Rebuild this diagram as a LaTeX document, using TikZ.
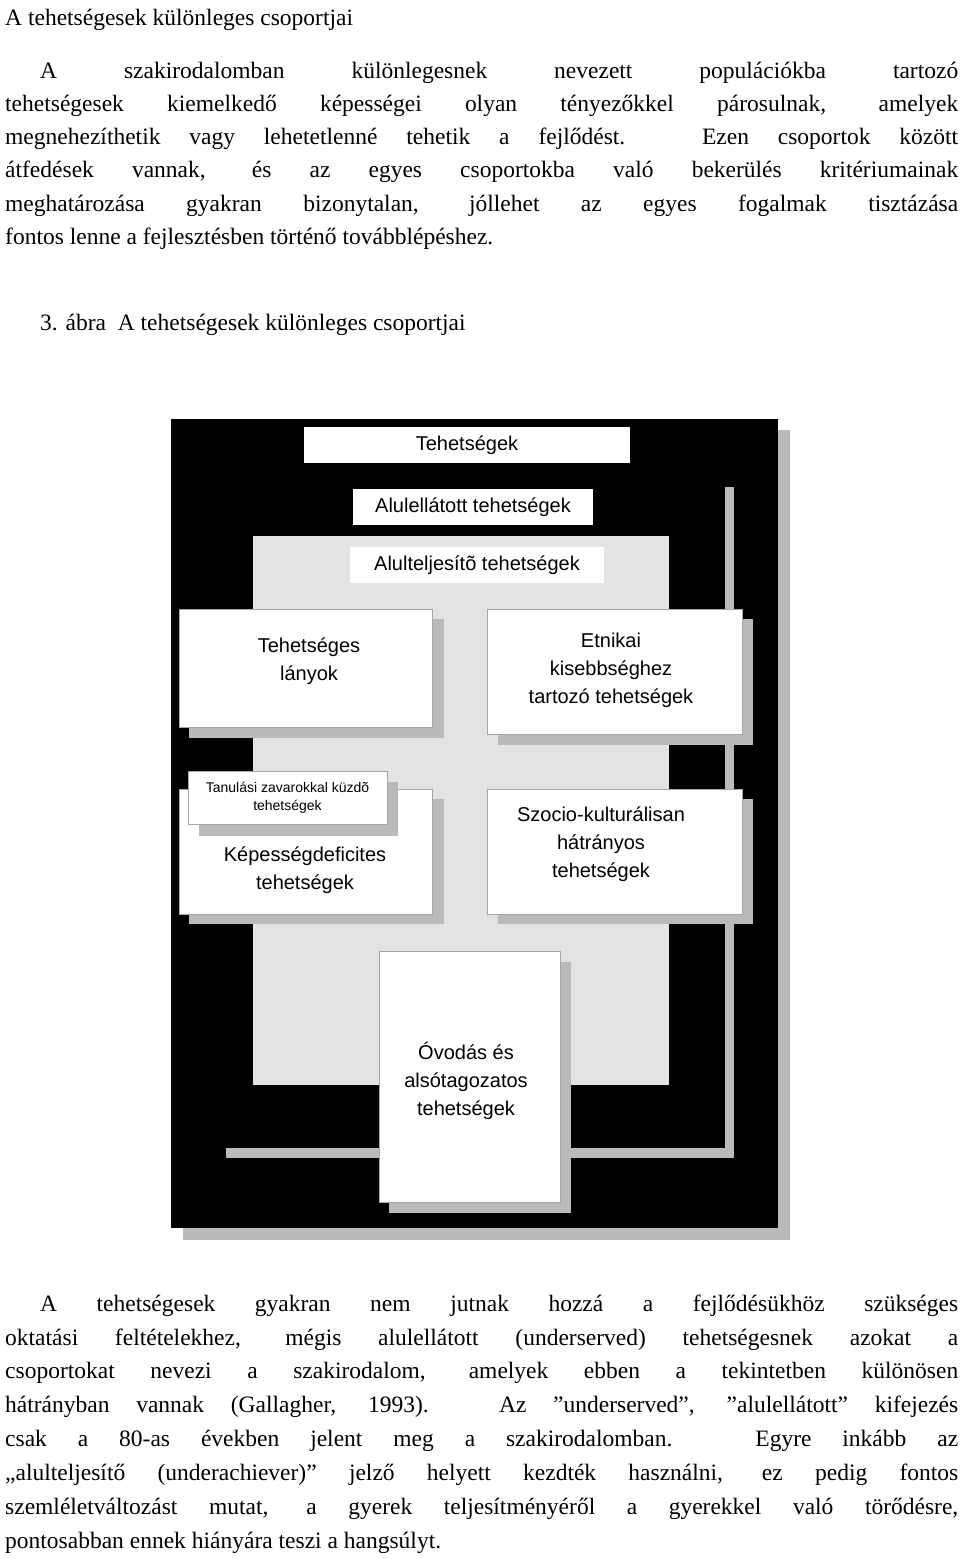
\documentclass[tikz,border=0pt]{standalone}
\usepackage{fontspec}
\setmainfont{Liberation Serif}
\newfontfamily\arial{Liberation Sans}
\begin{document}
\begin{tikzpicture}[x=1pt,y=-1pt,
  txt/.style={anchor=base west,inner sep=0pt,font=\fontsize{23.5}{28}\selectfont},
  shd/.style={fill=black!27},
  box/.style={fill=white,draw=black!35,line width=0.6pt,inner sep=2pt,align=center,font=\arial\fontsize{20}{28}\selectfont},
  lab/.style={inner sep=0pt,align=center,font=\arial\fontsize{20}{28}\selectfont}]
\useasboundingbox (0,0) rectangle (960,1559);
\fill[white] (0,0) rectangle (960,1559);
% page text
\node[txt] (h) at (5,25) {A tehetségesek különleges csoportjai};
\node[txt] (p1) at (40,78) {\makebox[918pt][s]{A szakirodalomban különlegesnek nevezett populációkba tartozó}};
\node[txt] (p2) at (5,111) {\makebox[953pt][s]{tehetségesek kiemelkedő képességei olyan tényezőkkel párosulnak, amelyek}};
\node[txt] (p3) at (5,144) {\makebox[953pt][s]{megnehezíthetik vagy lehetetlenné tehetik a fejlődést. Ezen csoportok között}};
\node[txt] (p4) at (5,177) {\makebox[953pt][s]{átfedések vannak, és az egyes csoportokba való bekerülés kritériumainak}};
\node[txt] (p5) at (5,211) {\makebox[953pt][s]{meghatározása gyakran bizonytalan, jóllehet az egyes fogalmak tisztázása}};
\node[txt] (p6) at (5,244) {fontos lenne a fejlesztésben történő továbblépéshez.};
\node[txt] (cap) at (40,330) {3. ábra\ \ A tehetségesek különleges csoportjai};
\node[txt] (q1) at (40,1311) {\makebox[918pt][s]{A tehetségesek gyakran nem jutnak hozzá a fejlődésükhöz szükséges}};
\node[txt] (q2) at (5,1345) {\makebox[953pt][s]{oktatási feltételekhez, mégis alulellátott (underserved) tehetségesnek azokat a}};
\node[txt] (q3) at (5,1378) {\makebox[953pt][s]{csoportokat nevezi a szakirodalom, amelyek ebben a tekintetben különösen}};
\node[txt] (q4) at (5,1412) {\makebox[953pt][s]{hátrányban vannak (Gallagher, 1993). Az "underserved", "alulellátott" kifejezés}};
\node[txt] (q5) at (5,1446) {\makebox[953pt][s]{csak a 80-as években jelent meg a szakirodalomban. Egyre inkább az}};
\node[txt] (q6) at (5,1480) {\makebox[953pt][s]{„alulteljesítő (underachiever)” jelző helyett kezdték használni, ez pedig fontos}};
\node[txt] (q7) at (5,1514) {\makebox[953pt][s]{szemléletváltozást mutat, a gyerek teljesítményéről a gyerekkel való törődésre,}};
\node[txt] (q8) at (5,1548) {pontosabban ennek hiányára teszi a hangsúlyt.};
% diagram
\fill[shd] (183,430) rectangle (790,1240);
\fill[black] (171,419) rectangle (778,1228);
\fill[shd] (226,487) rectangle (734,1158);
\fill[black] (216,477) rectangle (725,1148);
\fill[black!11] (253,536) rectangle (669,1085);
\node[box,draw=none,minimum width=326,minimum height=36] (t) at (467,445) {Tehetségek};
\node[box,draw=none,minimum width=240,minimum height=36] (a1) at (473,507) {Alulellátott tehetségek};
\node[box,draw=none,minimum width=254,minimum height=36] (a2) at (477,565) {Alulteljesítõ tehetségek};
% lányok
\fill[shd] (189,619) rectangle (444,738);
\node[box,minimum width=253,minimum height=118] (l) at (305.5,668) {};
\node[lab] at (309,661) {Tehetséges\\lányok};
% etnikai
\fill[shd] (498,619) rectangle (753,745);
\node[box,minimum width=255,minimum height=125] (e) at (614.5,671.5) {};
\node[lab] at (611,670) {Etnikai\\kisebbséghez\\tartozó tehetségek};
% kepesseg
\fill[shd] (189,799) rectangle (444,924);
\node[box,minimum width=253,minimum height=125] (k) at (305.5,851.5) {};
\node[lab] at (305,870) {Képességdeficites\\tehetségek};
% tanulasi
\fill[shd] (199,782) rectangle (398,836);
\node[box,minimum width=199,minimum height=53,font=\arial\fontsize{14}{18}\selectfont] (ta) at (287.5,797.5) {Tanulási zavarokkal küzdõ\\tehetségek};
% szocio
\fill[shd] (498,799) rectangle (753,924);
\node[box,minimum width=255,minimum height=125] (s) at (614.5,851.5) {};
\node[lab] at (601,844) {Szocio-kulturálisan\\hátrányos\\tehetségek};
% ovodas
\fill[shd] (389,962) rectangle (571,1213);
\node[box,minimum width=181,minimum height=251] (o) at (469.5,1076.5) {};
\node[lab] at (466,1081) {Óvodás és\\alsótagozatos\\tehetségek};
\end{tikzpicture}
\end{document}
